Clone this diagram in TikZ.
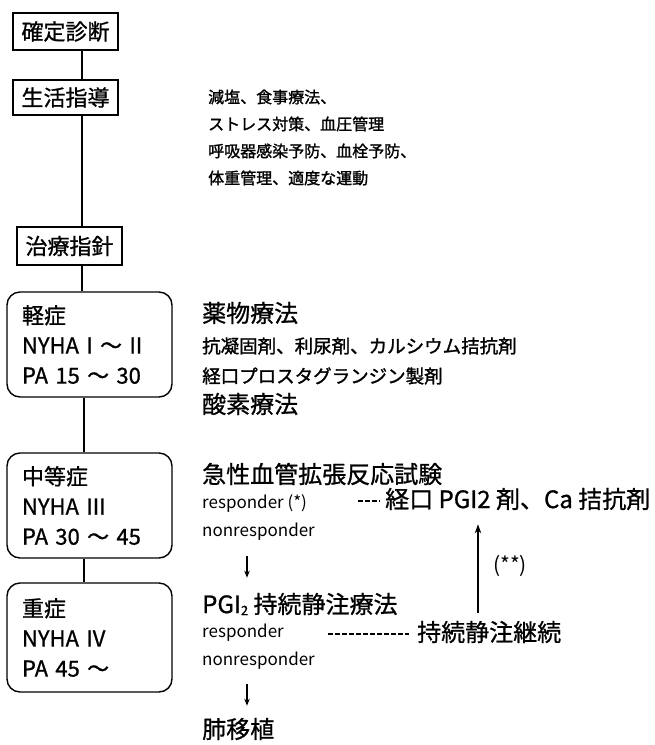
\documentclass[tikz,border=0pt]{standalone}
\usepackage{fontspec}
\setmainfont{Noto Sans CJK JP}
\newfontfamily\jpheavy[FakeBold=1.4]{Noto Sans CJK JP}
\newfontfamily\jpmed[FakeBold=0.9]{Noto Sans CJK JP}
\usetikzlibrary{arrows.meta}
\newcommand{\fsz}[2]{\fontsize{#1}{#2}\selectfont}
\begin{document}
\begin{tikzpicture}[x=1pt,y=-1pt,
  conn/.style={line width=1.5pt},
  box/.style={draw, line width=1.4pt, inner sep=0pt, minimum width=105pt, font=\jpmed\fsz{22}{22}},
  stage/.style={draw, line width=1.4pt, rounded corners=13pt, inner sep=0pt, minimum width=165pt, minimum height=105pt, text width=135pt, align=left, font=\jpmed\fsz{22}{30}},
  big/.style={anchor=west, inner sep=0pt, font=\jpmed\fsz{24}{24}},
  mid/.style={anchor=west, inner sep=0pt, font=\jpheavy\fsz{18.5}{18.5}},
  life/.style={anchor=west, inner sep=0pt, align=left, font=\jpheavy\fsz{16}{27}},
  lat/.style={anchor=west, inner sep=0pt, font=\fsz{17}{17}},
  sarr/.style={line width=1.5pt, -{Stealth[length=7pt,width=5.5pt]}},
  uarr/.style={line width=1.7pt, -{Stealth[length=9pt,width=6.5pt]}},
  dsh/.style={line width=1.3pt, dash pattern=on 4.5pt off 2.5pt}
]
\useasboundingbox (0,0) rectangle (654,745);
% left column
\node[box, minimum height=37pt] (d1) at (65.5,31.5) {確定診断};
\node[box, minimum height=35pt] (d2) at (65.5,97.5) {生活指導};
\node[box, minimum height=38pt] (d3) at (69.5,246) {治療指針};
\node[stage] (b1) at (89.5,344.5) {軽症\\NYHA I ～ II\\PA 15 ～ 30};
\node[stage] (b2) at (89.5,505.5) {中等症\\NYHA III\\PA 30 ～ 45};
\node[stage, minimum height=109pt] (b3) at (89.5,637.5) {重症\\NYHA IV\\PA 45 ～};
\coordinate (sp) at (82,0);
\coordinate (sq) at (84,0);
\draw[conn] (d1.south -| sp) -- (d2.north -| sp);
\draw[conn] (d2.south -| sp) -- (d3.north -| sp);
\draw[conn] (d3.south -| sp) -- (b1.north -| sp);
\draw[conn] (b1.south -| sq) -- (b2.north -| sq);
\draw[conn] (b2.south -| sq) -- (b3.north -| sq);
% life guidance
\node[life] (life) at (208,137.5) {減塩、食事療法、\\ストレス対策、血圧管理\\呼吸器感染予防、血栓予防、\\体重管理、適度な運動};
% right column
\node[big] (yak) at (202,313) {薬物療法};
\node[mid] (ko) at (202,346) {抗凝固剤、利尿剤、カルシウム拮抗剤};
\node[mid] (pro) at (202,376) {経口プロスタグランジン製剤};
\node[big] (san) at (202,404) {酸素療法};
\node[big] (kyu) at (202,474) {急性血管拡張反応試験};
\node[lat] (r1) at (202,503) {responder (*)};
\node[big] (oral) at (385,499) {経口 PGI2 剤、Ca 拮抗剤};
\node[lat] (n1) at (202,532) {nonresponder};
\node[big] (pgi) at (202,604) {PGI\raisebox{-2pt}{\fsz{13}{13}2} 持続静注療法};
\node[lat] (r2) at (202,633) {responder};
\node[big] (cont) at (417,632) {持続静注継続};
\node[lat] (n2) at (202,661) {nonresponder};
\node[big] (lung) at (202,729) {肺移植};
% arrows
\coordinate (ax) at (247,0);
\coordinate (ux) at (478,0);
\draw[sarr, shorten <=15pt, shorten >=15pt] (n1.south -| ax) -- (pgi.north -| ax);
\draw[sarr, shorten <=14pt, shorten >=12pt] (n2.south -| ax) -- (lung.north -| ax);
\draw[uarr, shorten <=8pt, shorten >=14pt] (cont.north -| ux) -- node[right, xshift=11pt, font=\fsz{21}{21}] (lbl) {(**)} (oral.south -| ux);
% dashed links
\coordinate (dsA) at (358,501);
\coordinate (dsB) at (328,634);
\draw[dsh, shorten >=5pt] (dsA) -- (dsA -| oral.west);
\draw[dsh, shorten >=8pt] (dsB) -- (dsB -| cont.west);
\end{tikzpicture}
\end{document}
